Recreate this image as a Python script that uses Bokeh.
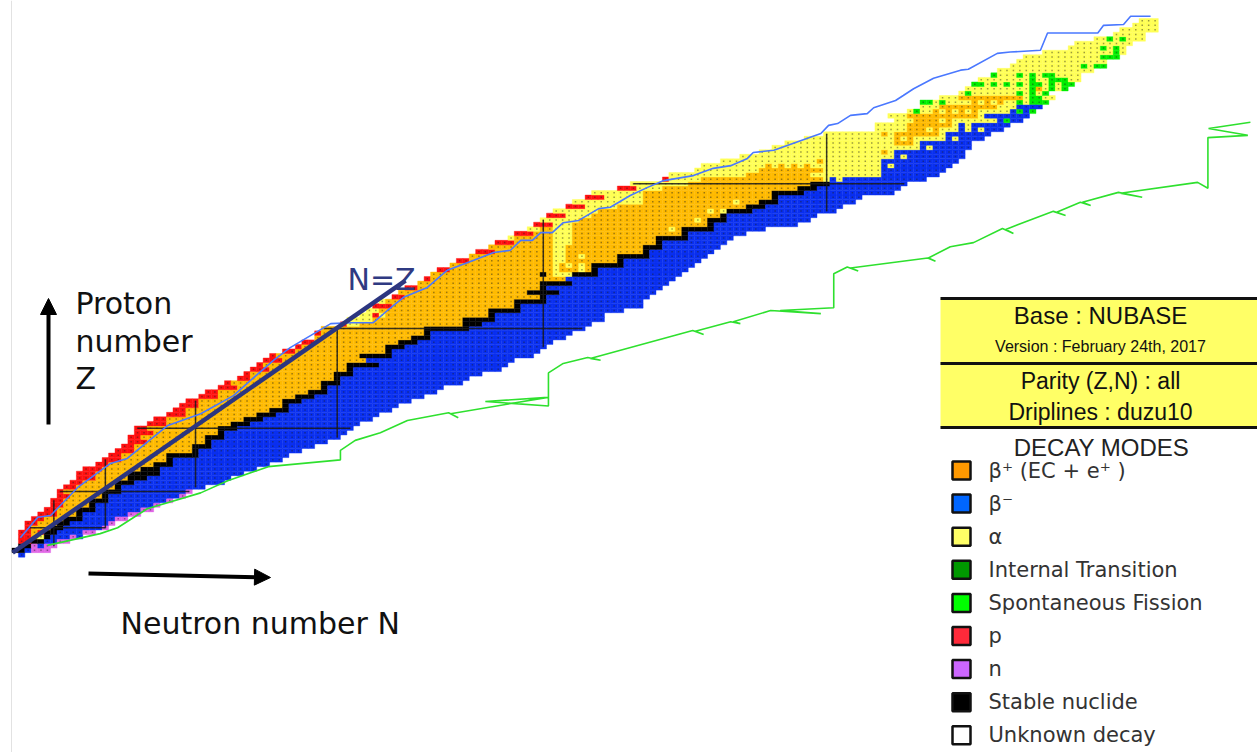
from bokeh.plotting import figure
from bokeh.models import ColumnDataSource, Label, Arrow, NormalHead
from bokeh.embed import file_html
from bokeh.resources import INLINE

# ---------------- data ----------------
# first neutron number of each proton row Z = 0..118
N_FIRST = [1, 0, 1, 1, 1, 1, 2, 2, 3, 4, 5, 6, 6, 7, 7, 8, 9, 10, 10, 11,
           13, 14, 15, 16, 17, 18, 18, 19, 19, 21, 22, 24, 25, 26, 27, 29, 30, 32, 33, 35,
           36, 37, 38, 39, 40, 42, 44, 45, 47, 47, 48, 51, 52, 54, 55, 56, 57, 59, 60, 61,
           63, 64, 65, 66, 68, 69, 71, 72, 74, 75, 77, 78, 80, 81, 82, 83, 84, 86, 87, 89,
           90, 94, 96, 101, 102, 106, 107, 110, 113, 116, 118, 120, 123, 126, 134, 134, 137, 136, 139, 141,
           141, 144, 147, 148, 149, 150, 152, 153, 155, 156, 157, 160, 164, 165, 168, 171, 172, 174, 175]

# decay mode runs along each row (p=proton, a=alpha, b=beta+, s=stable, m=beta-, n=neutron, f=fission)
ROW_MODES = [
    "m1", "s2 m1 n3", "s2 n1 m1 n2", "p2 s2 m2 n2", "p2 b1 a1 s1 m3 n1 m1",
    "p2 b1 p1 s2 m4 n2", "p1 b3 s2 m6 n1", "p2 b3 s2 m6 n1", "p2 b3 s3 m5 n2", "p3 b3 s1 m7 n2",
    "p2 b3 s3 m7 n2", "p2 b4 s1 m9 n1", "p2 b4 s3 m9 n1", "p2 b5 s1 m11 n1", "p1 b6 s3 m10 n1",
    "p2 b6 s1 m13", "p2 b5 s3 m14", "p3 b5 s3 m13", "p3 b5 s5 m13", "p3 b6 s3 m15",
    "p2 b7 s3 m15", "p3 b7 s1 m17", "p2 b7 s5 m14", "p3 b9 s1 m16", "p2 b9 s3 m16",
    "p3 b9 s1 m18", "p2 b10 s3 m18", "p3 b10 s1 m19", "p2 b11 s3 m18", "p3 b10 s3 m17",
    "p2 b12 s3 m17", "p3 b11 s3 m16", "p2 b13 s3 m16", "p3 b13 s1 m17", "p2 b13 s3 m17",
    "p3 b12 s3 m17", "p2 b14 s3 m17", "p3 b13 s1 m18", "p1 b14 s3 m19", "p2 b13 s1 m20",
    "p1 b13 s3 m20", "p3 b12 s1 m23", "p1 b13 s5 m20", "p3 b13 m23", "p1 b13 s5 m22",
    "p2 b14 s1 m23", "p1 b13 s3 m22", "p2 b13 s3 m21", "b15 s3 m21", "p1 b16 s1 m22",
    "b16 s7 m18", "p1 a2 b16 s3 m17", "a4 b14 s5 m17", "a2 p1 a1 b16 s1 m17", "a2 b17 s5 m16",
    "p3 b19 s1 m19", "a1 b20 s5 m15", "p2 b21 s1 m16", "b20 s5 m15", "p2 b19 s1 m18",
    "b19 s5 m15", "p1 b21 m17", "b17 s1 b1 a3 s4 m13", "p2 b16 a1 b3 a1 b1 s1 m14",
    "b16 a1 b1 a1 b1 a1 b1 s5 m11",
    "p2 b13 a2 b8 s1 m12", "b13 a2 b2 a1 b5 s5 m9", "p3 b9 a2 b12 s1 m10", "b10 a2 b12 s3 m9",
    "p3 b6 a3 b13 s1 m10",
    "a1 b6 a3 b13 s5 m7", "p3 b3 a3 b17 s1 m9", "a2 b2 a3 b15 a1 b1 s5 m8", "p3 a3 b21 s1 m13",
    "a6 b18 a1 b1 s3 m13",
    "p3 a4 b20 s1 m14", "a7 b17 a1 b1 a1 s4 m13", "p3 a5 b20 s3 m12", "a11 b14 a1 b3 s3 m12",
    "p3 a6 b20 s1 m13",
    "a8 b20 s5 m14", "p3 a4 b21 s3 m13", "a9 b19 s3 m12", "p1 a5 b19 a1 m1 a1 m13",
    "a12 b10 a11 m9",
    "a10 b10 a9 m10", "a10 b1 a1 b1 a1 b1 a1 b1 a11 m1 a1 m9", "a15 b1 a9 m12", "a24 m1 a1 m9", "a19 b1 a1 m11",
    "a23 m1 a1 m6", "a17 b3 a1 m8", "a14 b1 a1 b1 a5 m1 a1 m4", "a9 b1 a1 b7 a1 m7",
    "a5 b3 a1 b1 a3 m1 a1 m1 a1 m3",
    "a5 b7 a1 m1 a1 m6", "a3 b4 a1 b1 a7 m1 f1 m2", "a3 b11 a1 m7",
    "a1 f1 a2 b1 a1 b1 a1 b1 a1 b1 a5 m1 f1 m1 f1", "a3 b9 a3 m4",
    "f2 a1 f1 a4 b1 a1 b1 a1 b1 a2 f1 a1 f3", "a3 b10 a1 f2 a2", "a1 f1 a7 f1 a1 f1 a1 f1",
    "a10 f1 b1 a1 f1 a1 f1", "f2 a1 f1 a1 f1 a1 f1 a1 f2 a1 f1 a1 f2",
    "a8 f1 a2 f3 a2", "f1 a3 f1 a1 f1 a1 f2 a4", "a15", "a11 f1 a1 f2", "a14",
    "a12 f3", "a11 f1 a1", "a5 f1 a1 f1 a1", "a9", "a2 f1 a1 f1 a3",
    "a5", "a6", "a4", "a3",
]

MAGIC = [6, 14, 28, 50, 82, 126]

# proton drip line (blue) vertices
PDRIP_N = [0.8, 3.5, 5.5, 9.7, 14.8, 17.4, 23.7, 28.8, 33.9, 36.5, 40.1, 42.7, 49.0, 52.1, 55.6, 57.8,
           60.3, 64.0, 67.1, 71.2, 74.3, 76.9, 78.5, 80.3, 81.6, 83.4, 85.1, 87.5, 90.6, 92.4, 95.5, 98.2,
           100.7, 105.3, 108.4, 111.1, 113.7, 114.6, 117.8, 125.1, 126.3, 127.7, 129.7, 132.3, 133.3, 136.7,
           137.9, 139.5, 142.6, 146.8, 148.0, 152.5, 154.5, 159.2, 160.3, 168.1, 169.0, 172.1, 173.2, 176.3]
PDRIP_Z = [3.8, 8.3, 8.7, 14.9, 20.2, 21.3, 28.6, 31.2, 35.2, 38.5, 43.0, 45.8, 51.1, 51.3, 51.3, 54.0,
           56.9, 59.1, 62.9, 65.1, 66.8, 67.3, 69.5, 69.5, 71.2, 71.2, 73.4, 73.9, 76.5, 76.8, 79.4, 81.2,
           82.7, 83.8, 85.4, 86.0, 87.6, 88.9, 89.4, 93.1, 94.9, 95.3, 97.1, 97.5, 98.8, 100.4,
           101.5, 103.0, 105.3, 107.1, 107.3, 110.8, 111.1, 111.5, 115.3, 115.3, 117.0, 117.2, 119.0, 119.0]

# neutron drip line (green) vertices
NDRIP_N = [5.0, 13.2, 15.9, 20.5, 28.8, 33.0, 39.3, 50.5, 50.5, 52.8, 56.7, 60.9, 67.3, 68.8, 67.6, 82.7,
           73.0, 82.8, 82.8, 85.1, 88.9, 90.9, 89.3, 105.2, 106.9, 105.6, 111.1, 112.6, 111.5, 117.3, 125.1,
           118.8, 127.1, 127.1, 129.2, 130.9, 129.7, 141.7, 142.9, 141.8, 145.2, 148.8, 153.3, 155.0, 153.8,
           157.4, 161.2, 163.1, 161.7, 165.4, 167.0, 165.7, 171.3, 175.0, 171.6, 183.6, 185.2, 185.2, 191.4,
           185.3, 191.8]
NDRIP_Z = [2.1, 4.7, 6.0, 10.2, 13.7, 16.4, 19.5, 21.0, 23.1, 25.3, 27.0, 29.7, 31.4, 30.3, 31.2, 34.8,
           33.9, 32.9, 40.2, 42.3, 43.6, 43.0, 43.4, 49.6, 48.7, 49.4, 51.5, 51.1, 51.5, 54.0, 53.3,
           54.0, 54.6, 62.1, 63.6, 62.7, 63.4, 65.6, 64.9, 65.6, 68.1, 69.0, 72.1, 71.0, 71.9,
           73.9, 75.9, 75.0, 75.7, 77.9, 77.2, 77.9, 80.1, 79.0, 79.9, 82.3, 81.0, 92.2, 92.7,
           94.2, 95.6]

NZ_LINE_N = [-0.4, 60.6]
NZ_LINE_Z = [0.5, 60.6]

INFO_LINES = ["Base : NUBASE", "Version : February 24th, 2017", "Parity (Z,N) : all", "Driplines : duzu10"]
LEGEND_LABELS = ["\u03b2\u207a (EC + e\u207a )", "\u03b2\u207b", "\u03b1", "Internal Transition",
                 "Spontaneous Fission", "p", "n", "Stable nuclide", "Unknown decay"]
LEGEND_COLORS = ["#ff9900", "#0066ff", "#ffff66", "#009900", "#00ff00", "#ff2a3a", "#cc66ff",
                 "#000000", "#ffffff"]

CELL_COLORS = {"b": "#ffbb00", "m": "#0a30f0", "a": "#ffff55", "i": "#009900", "f": "#00ee00",
               "p": "#ff1010", "n": "#e066e6", "s": "#000000", "u": "#ffffff"}

# ---------------- figure geometry ----------------
W, H = 1257, 752
XS, XE = -2.283, 192.90
YS, YE = -43.66, 122.49


def px(ix):
    return XS + ix * (XE - XS) / W


def py(iy):
    return YE - iy * (YE - YS) / H


p = figure(width=W, height=H, x_range=(XS, XE), y_range=(YS, YE), output_backend="svg",
           toolbar_location=None, min_border=0, min_border_left=0, min_border_right=0,
           min_border_top=0, min_border_bottom=0)
p.xaxis.visible = False
p.yaxis.visible = False
p.grid.visible = False
p.outline_line_color = None
p.background_fill_color = "white"
p.border_fill_color = "white"

# faint slide edge on the left
p.line([px(11), px(11)], [py(0), py(752)], line_color="#e2e2e2", line_width=1)

# ---------------- cells ----------------
ns, zs, cols = [], [], []
dn, dz = [], []
for z, (n0, rle) in enumerate(zip(N_FIRST, ROW_MODES)):
    n = n0
    for tok in rle.split():
        mode, cnt = tok[0], int(tok[1:])
        for _ in range(cnt):
            ns.append(n)
            zs.append(z)
            cols.append(CELL_COLORS[mode])
            if mode != "s":
                dn.append(n)
                dz.append(z)
            n += 1

src = ColumnDataSource(dict(N=ns, Z=zs, color=cols))
p.rect(x="N", y="Z", width=1, height=1, fill_color="color", line_color="color",
       line_width=0.4, source=src)
p.scatter(x=dn, y=dz, marker="square", size=1.5, fill_color="#202020", line_color=None,
          fill_alpha=0.45)

# magic number lines spanning the known nuclides
xs_m, ys_m = [], []
for m in MAGIC:
    row = [n for n, z in zip(ns, zs) if z == m]
    if row:
        xs_m.append([min(row), max(row)])
        ys_m.append([m, m])
    col = [z for n, z in zip(ns, zs) if n == m]
    if col:
        xs_m.append([m, m])
        ys_m.append([min(col), max(col)])
p.multi_line(xs=xs_m, ys=ys_m, line_color="#1a1a1a", line_width=1.5, line_alpha=0.85)

# drip lines
p.line(NDRIP_N, NDRIP_Z, line_color="#2ee02e", line_width=1.6)
p.line(PDRIP_N, PDRIP_Z, line_color="#4a78ff", line_width=1.6)

# N = Z line
p.line(NZ_LINE_N, NZ_LINE_Z, line_color="#2c3680", line_width=4.5)
p.add_layout(Label(x=px(347), y=py(279), text="N=Z", text_font="DejaVu Sans",
                   text_font_size="30px", text_color="#2f3a82", text_baseline="alphabetic"))

# axis hints
p.add_layout(Arrow(end=NormalHead(size=16, fill_color="black", line_color="black"),
                   x_start=px(48), y_start=py(424), x_end=px(48), y_end=py(298),
                   line_color="black", line_width=4))
p.add_layout(Arrow(end=NormalHead(size=16, fill_color="black", line_color="black"),
                   x_start=px(88), y_start=py(573), x_end=px(270), y_end=py(577),
                   line_color="black", line_width=4))
for txt, base in zip(["Proton", "number", "Z"], [303, 341, 378]):
    p.add_layout(Label(x=px(75), y=py(base), text=txt, text_font="DejaVu Sans",
                       text_font_size="30px", text_color="#111111", text_baseline="alphabetic"))
p.add_layout(Label(x=px(120), y=py(623), text="Neutron number  N", text_font="DejaVu Sans",
                   text_font_size="30px", text_color="#111111", text_baseline="alphabetic"))

# ---------------- info box ----------------
p.quad(left=px(940), right=px(1260), top=py(298), bottom=py(427), fill_color="#ffff66",
       line_color=None)
p.multi_line(xs=[[px(940), px(1260)]] * 3, ys=[[py(298)] * 2, [py(363)] * 2, [py(427)] * 2],
             line_color="#111111", line_width=3)
info_sizes = ["24px", "16px", "23px", "23px"]
info_y = [315, 346, 380, 411]
for txt, sz, yy in zip(INFO_LINES, info_sizes, info_y):
    p.add_layout(Label(x=px(1100), y=py(yy), text=txt, text_font="Liberation Sans", text_font_size=sz,
                       text_color="#111111", text_align="center", text_baseline="middle"))
p.add_layout(Label(x=px(1101), y=py(447), text="DECAY MODES", text_font="Liberation Sans",
                   text_font_size="24px", text_color="#222222", text_align="center",
                   text_baseline="middle"))

# legend
leg_y = [py(470 + 33.1 * i) for i in range(len(LEGEND_LABELS))]
p.rect(x=[px(961)] * len(LEGEND_LABELS), y=leg_y, width=18, height=18, width_units="screen",
       height_units="screen", fill_color=LEGEND_COLORS, line_color="#111111", line_width=2.5)
for txt, yy in zip(LEGEND_LABELS, leg_y):
    p.add_layout(Label(x=px(988), y=yy, text=txt, text_font="DejaVu Sans", text_font_size="21px",
                       text_color="#333333", text_baseline="middle"))

open("out.html", "w").write(file_html(p, INLINE))
